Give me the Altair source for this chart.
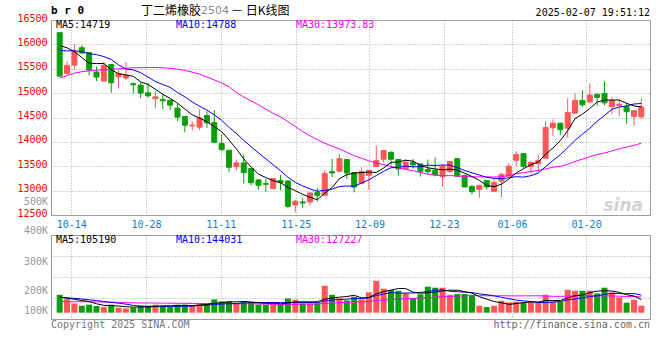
import json
import altair as alt
import numpy as np
import pandas as pd

# ---------------- data ----------------
opens = [16240, 15404, 15575, 15932, 15829, 15431, 15247, 15589, 15336, 15308,
         15192, 15164, 15007, 14883, 14870, 14856, 14692, 14520, 14329, 14301,
         14541, 14397, 13966, 13828, 13493, 13568, 13452, 13219, 13144, 13041,
         13205, 13198, 12705, 12767, 12767, 12959, 12904, 13390, 13397, 13637,
         13370, 13144, 13315, 13493, 13644, 13787, 13637, 13445, 13582, 13548,
         13431, 13418, 13287, 13390, 13657, 13308, 13082, 13027, 13205, 12986,
         13198, 13294, 13623, 13760, 13493, 13555, 13664, 14288, 14383, 14281,
         14589, 14849, 14822, 14975, 14993, 14719, 14747, 14719, 14520, 14514]
highs = [16245, 15651, 16000, 15979, 15842, 15541, 15637, 15589, 15486, 15637,
         15226, 15226, 15212, 15041, 14973, 14856, 14788, 14520, 14418, 14664,
         14630, 14651, 14150, 13828, 13637, 13740, 13452, 13233, 13240, 13260,
         13329, 13212, 12815, 12849, 12966, 13055, 13418, 13650, 13753, 13637,
         13370, 13479, 13418, 13924, 13822, 13801, 13650, 13650, 13650, 13548,
         13637, 13678, 13555, 13596, 13657, 13329, 13116, 13109, 13205, 13233,
         13363, 13562, 13808, 13760, 13589, 13740, 14425, 14459, 14383, 14890,
         14993, 15055, 15199, 14993, 15240, 14918, 14884, 14801, 14651, 14897]
lows = [15345, 15384, 15486, 15808, 15363, 15247, 15247, 15007, 15096, 15281,
        14986, 14897, 14904, 14692, 14678, 14651, 14425, 14198, 14233, 14240,
        14288, 13993, 13808, 13376, 13418, 13144, 13109, 13020, 12979, 13027,
        13007, 12637, 12555, 12644, 12698, 12781, 12904, 13281, 13397, 13240,
        12965, 13144, 13020, 13493, 13575, 13520, 13308, 13445, 13452, 13287,
        13322, 13294, 13082, 13363, 13294, 13075, 12924, 12856, 13020, 12986,
        12863, 13294, 13500, 13466, 13356, 13377, 13664, 14116, 14137, 14082,
        14589, 14719, 14788, 14747, 14753, 14568, 14541, 14370, 14336, 14473]
closes = [15350, 15568, 15849, 15822, 15473, 15329, 15568, 15212, 15404, 15363,
          15171, 15000, 14945, 14924, 14842, 14753, 14507, 14342, 14342, 14493,
          14390, 13993, 13842, 13479, 13568, 13370, 13164, 13109, 13130, 13247,
          13164, 12678, 12781, 12746, 12952, 12904, 13349, 13363, 13657, 13363,
          13075, 13390, 13418, 13616, 13822, 13644, 13445, 13582, 13527, 13397,
          13390, 13322, 13500, 13596, 13294, 13075, 12979, 13109, 13075, 13164,
          13335, 13500, 13740, 13500, 13582, 13616, 14294, 14383, 14253, 14603,
          14849, 14760, 14960, 14915, 14801, 14850, 14770, 14620, 14640, 14715]
volumes = [147000, 112000, 76000, 57000, 66000, 55000, 46000, 66000, 41000, 35000,
           41000, 57000, 57000, 66000, 57000, 46000, 66000, 66000, 55000, 79000,
           74000, 109000, 93000, 93000, 74000, 93000, 85000, 66000, 66000, 82000,
           66000, 117000, 106000, 76000, 76000, 76000, 221000, 147000, 117000, 101000,
           131000, 109000, 167000, 262000, 197000, 188000, 180000, 161000, 117000, 150000,
           213000, 205000, 205000, 147000, 153000, 153000, 147000, 57000, 46000, 57000,
           98000, 85000, 90000, 85000, 90000, 85000, 147000, 90000, 90000, 188000,
           180000, 180000, 180000, 158000, 205000, 167000, 126000, 82000, 106000, 57000]

# moving-average values at the start of the window (read from the picture,
# they depend on sessions before the first visible candle)
ma5_head = [15980, 15930, 15850, 15730]
ma10_head = [15880, 15865, 15870, 15850, 15810, 15790, 15750, 15690, 15580]
ma30_head = [15310, 15360, 15410, 15440, 15455, 15470, 15480, 15490, 15500, 15510,
             15520, 15520, 15525, 15525, 15520, 15510, 15490, 15465, 15430, 15390,
             15330, 15270, 15210, 15130, 15010, 14920, 14840, 14760, 14670]
vma5_head = [128000, 120000, 110000, 100000]
vma10_head = [126000, 122000, 118000, 112000, 106000, 100000, 92000, 85000, 78000]
vma30_head = [92000, 91000, 90000, 90000, 89000, 88000, 87000, 86000, 85000, 82000,
              81000, 80000, 80000, 79000, 78000, 78000, 77000, 77000, 76000, 76000,
              75000, 75000, 74000, 74000, 73000, 73000, 72000, 72000, 71000]

tick_pos = [1.58, 11.72, 21.87, 32.07, 42.08, 52.18, 61.44, 71.5]
tick_labels = ["10-14", "10-28", "11-11", "11-25", "12-09", "12-23", "01-06", "01-20"]

price_ticks = [12500, 13000, 13500, 14000, 14500, 15000, 15500, 16000, 16500]
vol_axis_labels = ["500K", "400K", "300K", "200K", "100K"]

title_name = "丁二烯橡胶"
title_code = "2504"
title_rest = "－  日K线图"
symbol = "b r 0"
stamp = "2025-02-07 19:51:12"
ma_price_labels = ["MA5:14719", "MA10:14788", "MA30:13973.83"]
ma_vol_labels = ["MA5:105190", "MA10:144031", "MA30:127227"]
copyright_text = "Copyright 2025 SINA.COM"
url_text = "http://finance.sina.com.cn"

# ---------------- table ----------------
n = len(closes)
df = pd.DataFrame({"i": np.arange(n), "open": opens, "high": highs, "low": lows,
                   "close": closes, "vol": volumes})
df["dir"] = np.where(df["close"] >= df["open"], "up", "down")


def moving(series, w, head):
    m = pd.Series(series, dtype=float).rolling(w).mean()
    m.iloc[:len(head)] = head
    return m.values


df["ma5"] = moving(closes, 5, ma5_head)
df["ma10"] = moving(closes, 10, ma10_head)
df["ma30"] = moving(closes, 30, ma30_head)
df["vma5"] = moving(volumes, 5, vma5_head)
df["vma10"] = moving(volumes, 10, vma10_head)
df["vma30"] = moving(volumes, 30, vma30_head)

# ---------------- styling ----------------
RED = "#ff5757"
GREEN = "#0a9f0a"
MONO = "DejaVu Sans Mono"
GRID = "#a8a8a8"
W = 599
H_PRICE = 195
H_VOL = 84

dir_color = alt.Color("dir:N", scale=alt.Scale(domain=["up", "down"], range=[RED, GREEN]), legend=None)
dir_stroke = alt.Stroke("dir:N", scale=alt.Scale(domain=["up", "down"], range=[RED, GREEN]), legend=None)

label_expr = "%s[indexof(%s, datum.value)]" % (json.dumps(tick_labels), json.dumps(tick_pos))

xscale = alt.Scale(domain=[-0.5, n - 0.5], nice=False, zero=False)
x_axis_price = alt.Axis(values=tick_pos, labelExpr=label_expr, title=None, ticks=False,
                        domain=False, grid=True, gridColor=GRID, gridDash=[1, 2],
                        labelColor="#0a7fcc", labelFont=MONO, labelFontSize=10,
                        labelPadding=4, labelFlush=False, labelOverlap=False)
x_axis_vol = alt.Axis(values=tick_pos, labels=False, title=None, ticks=False,
                      domain=False, grid=True, gridColor=GRID, gridDash=[1, 2])

pscale = alt.Scale(domain=[12500, 16500], nice=False, zero=False)
y_axis = alt.Axis(values=price_ticks, format="d", title=None, ticks=False, domain=False, grid=True,
                  gridColor=GRID, gridDash=[1, 2], labelColor="#ff0000", labelFont=MONO,
                  labelFontSize=10, labelPadding=4, labelFlush=False, labelOverlap=False,
                  labelOffset=-2)


def px(field):
    return alt.X(field, scale=xscale, axis=x_axis_price)


def py(field):
    return alt.Y(field, scale=pscale, axis=y_axis)


base = alt.Chart(df)

wick = base.mark_rule(strokeWidth=1).encode(
    x=px("i:Q"), y=py("low:Q"), y2="high:Q", color=dir_color)
body = base.mark_bar(size=5, strokeWidth=1).encode(
    x=px("i:Q"), y=py("open:Q"), y2="close:Q", color=dir_color, stroke=dir_stroke)
l30 = base.mark_line(color="#ff00ff", strokeWidth=1).encode(x=px("i:Q"), y=py("ma30:Q"))
l10 = base.mark_line(color="#0000ff", strokeWidth=1).encode(x=px("i:Q"), y=py("ma10:Q"))
l5 = base.mark_line(color="#000000", strokeWidth=1).encode(x=px("i:Q"), y=py("ma5:Q"))


def label(txt, x, y, color="#000", size=10, font=MONO, align="left", weight="normal",
          baseline="middle", style="normal", opacity=1):
    return alt.Chart(pd.DataFrame({"t": [txt]})).mark_text(
        align=align, baseline=baseline, font=font, fontSize=size, color=color,
        fontWeight=weight, fontStyle=style, opacity=opacity).encode(
        x=alt.value(x), y=alt.value(y), text="t:N")


ma_cols = ["#000000", "#0000ff", "#ff00ff"]
ma_x = [5, 125, 245]

price_layers = [wick, body, l30, l10, l5]
for t, xx, cc in zip(ma_price_labels, ma_x, ma_cols):
    price_layers.append(label(t, xx, 5, color=cc))
price_layers += [
    label(".", -50, -19, align="left", baseline="top", opacity=0),
    label(symbol, 0, -9, size=11, weight="bold"),
    label(title_name, 90, -9, size=12, font="Noto Sans CJK SC"),
    label(title_code, 150, -9, size=11, font="DejaVu Sans", color="#8a8a8a"),
    label(title_rest, 180, -9, size=12, font="Noto Sans CJK SC"),
    label(stamp, W, -7, align="right"),
    label("sina", 592, 186, size=17, font="DejaVu Sans", weight="bold", style="italic",
          color="#d2d2d2", align="right"),
]
price = alt.layer(*price_layers).properties(width=W, height=H_PRICE)

# volume panel
vdom = [-51660, 637140]
vscale = alt.Scale(domain=vdom, nice=False, zero=False)
q = (vdom[1] - vdom[0]) / 4.0
vgrid = [vdom[0] + q, vdom[0] + 2 * q, vdom[0] + 3 * q]
vy_axis = alt.Axis(values=vgrid, labels=False, title=None, ticks=False, domain=False,
                   grid=True, gridColor=GRID, gridDash=[1, 2])


def vx(field):
    return alt.X(field, scale=xscale, axis=x_axis_vol)


def vy(field):
    return alt.Y(field, scale=vscale, axis=vy_axis)


vbar = base.mark_bar(size=6).encode(
    x=vx("i:Q"), y=vy("vol:Q"), y2=alt.datum(0), color=dir_color)
v30 = base.mark_line(color="#ff00ff", strokeWidth=1).encode(x=vx("i:Q"), y=vy("vma30:Q"))
v10 = base.mark_line(color="#0000ff", strokeWidth=1).encode(x=vx("i:Q"), y=vy("vma10:Q"))
v5 = base.mark_line(color="#000000", strokeWidth=1).encode(x=vx("i:Q"), y=vy("vma5:Q"))

vol_layers = [vbar, v30, v10, v5]
for t, xx, cc in zip(ma_vol_labels, ma_x, ma_cols):
    vol_layers.append(label(t, xx, 5, color=cc))
for t, yy in zip(vol_axis_labels, [-33, -4, 27, 56, 76]):
    vol_layers.append(label(t, -3, yy, color="#999999", align="right"))
vol_layers += [
    label(copyright_text, 0, 90, color="#777777"),
    label(url_text, W, 90, color="#666666", align="right"),
]
vol = alt.layer(*vol_layers).properties(width=W, height=H_VOL)

chart = alt.vconcat(price, vol, spacing=20, bounds="flush").properties(
    padding=0, background="white"
).configure_view(stroke="#9a9a9a", strokeWidth=1)

chart.save("out.html", embed_options={"renderer": "svg", "actions": False})
